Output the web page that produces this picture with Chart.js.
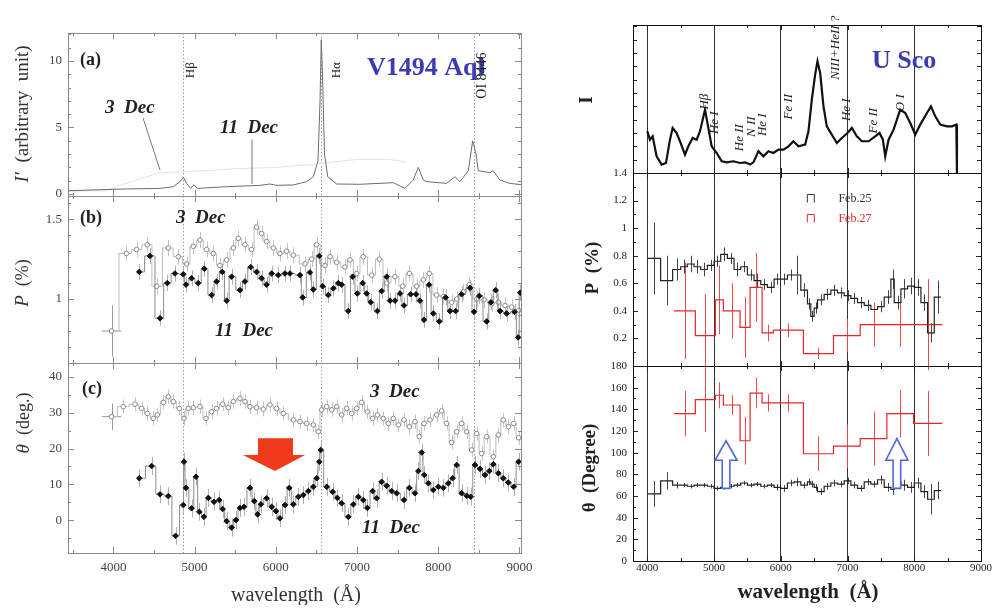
<!DOCTYPE html>
<html>
<head>
<meta charset="utf-8">
<title>V1494 Aql / U Sco spectropolarimetry</title>
<script src="https://cdn.jsdelivr.net/npm/chart.js@4.4.1/dist/chart.umd.min.js"></script>
<style>
  html, body { margin: 0; padding: 0; background: #fff; }
  #page { position: relative; width: 997px; height: 608px; overflow: hidden; }
  #page canvas { position: absolute; }
</style>
</head>
<body>
<div id="page"></div>
<script>
// ---------- V1494 Aql (left) ----------
const leftWaveTicks = [4000, 5000, 6000, 7000, 8000, 9000];
// emission line markers (Å)
const lineMarks = [4861, 6563, 8446];

// (a) flux spectra
const dec11SpecWave = [3441, 4164, 4574, 4738, 4820, 4861, 4902, 4952, 4993, 5033, 5395, 5805, 5929, 6011, 6215, 6380, 6462, 6520, 6545, 6560, 6575, 6600, 6640, 6750, 7037, 7447, 7591, 7693, 7755, 7817, 7858, 8104, 8207, 8268, 8371, 8425, 8466, 8494, 8638, 8678, 8760, 8884, 9020];
const dec11Spec = [0.25, 0.38, 0.42, 0.55, 0.93, 1.25, 0.8, 0.42, 0.7, 0.42, 0.55, 0.65, 0.75, 0.65, 0.68, 0.93, 1.3, 2.5, 7.0, 11.6, 9.0, 3.0, 1.3, 0.75, 0.73, 0.85, 0.42, 1.05, 2.0, 1.05, 0.93, 0.8, 1.3, 0.93, 1.75, 4.0, 3.0, 1.75, 1.6, 1.75, 1.05, 0.8, 0.7];
const dec3SpecWave = [3441, 3900, 4200, 4574, 5000, 5500, 6000, 6400, 6700, 7000, 7400, 7600];
const dec3Spec = [0.2, 0.25, 0.9, 1.6, 1.7, 1.9, 2.0, 2.2, 2.4, 2.6, 2.6, 2.4];

// (b) polarization degree P (%)
const dec3PWave = [3978, 4160, 4286, 4417, 4532, 4676, 4799, 4902, 4984, 5066, 5148, 5230, 5312, 5395, 5477, 5538, 5620, 5702, 5764, 5826, 5887, 5969, 6051, 6133, 6216, 6360, 6442, 6503, 6606, 6668, 6750, 6852, 6914, 6996, 7078, 7181, 7275, 7366, 7468, 7563, 7645, 7735, 7817, 7891, 7981, 8063, 8166, 8228, 8310, 8384, 8474, 8564, 8659, 8741, 8823, 8905, 8990];
const dec3P = [0.80, 1.285, 1.31, 1.34, 1.08, 1.32, 1.265, 1.22, 1.33, 1.37, 1.31, 1.285, 1.21, 1.245, 1.32, 1.38, 1.34, 1.31, 1.45, 1.41, 1.36, 1.32, 1.285, 1.30, 1.275, 1.22, 1.25, 1.34, 1.21, 1.265, 1.23, 1.20, 1.245, 1.16, 1.265, 1.15, 1.25, 1.10, 1.14, 1.08, 1.16, 1.08, 1.12, 1.16, 1.025, 1.015, 0.98, 1.0, 1.045, 1.09, 1.0, 0.995, 0.97, 0.98, 0.96, 0.95, 0.93];
const dec11PWave = [4319, 4450, 4574, 4664, 4758, 4861, 4894, 4963, 5045, 5119, 5210, 5271, 5341, 5395, 5456, 5559, 5620, 5690, 5764, 5826, 5887, 5949, 6031, 6113, 6175, 6298, 6331, 6421, 6462, 6536, 6577, 6647, 6709, 6770, 6811, 6893, 6947, 7004, 7070, 7119, 7169, 7251, 7304, 7366, 7407, 7468, 7530, 7579, 7661, 7727, 7776, 7825, 7887, 7940, 8014, 8092, 8145, 8215, 8289, 8392, 8441, 8507, 8597, 8650, 8708, 8761, 8843, 8940, 8985, 9010];
const dec11P = [1.17, 1.27, 0.88, 1.10, 1.16, 1.155, 1.09, 1.13, 1.10, 1.19, 1.025, 1.11, 1.17, 0.99, 1.14, 1.056, 1.11, 1.20, 1.17, 1.13, 1.09, 1.16, 1.15, 1.16, 1.16, 1.15, 1.01, 1.167, 1.06, 1.27, 1.08, 1.025, 1.067, 1.10, 1.09, 0.925, 1.14, 1.035, 1.10, 1.035, 0.98, 0.925, 1.05, 1.14, 0.99, 0.99, 1.035, 0.96, 1.03, 1.03, 0.99, 0.87, 1.09, 0.91, 0.86, 1.01, 0.925, 0.925, 1.03, 1.07, 0.92, 1.02, 0.86, 0.98, 1.056, 0.925, 0.91, 0.92, 0.76, 1.04];
const dec3PErr = 0.05, dec11PErr = 0.05;
const dec3FirstPErr = 0.16, dec3FirstHalfBin = 120;

// (c) position angle θ (deg.)
const dec3ThetaWave = [3978, 4122, 4266, 4348, 4417, 4491, 4541, 4615, 4676, 4738, 4812, 4869, 4922, 4984, 5066, 5140, 5210, 5271, 5345, 5415, 5477, 5559, 5620, 5682, 5764, 5846, 5928, 6010, 6092, 6216, 6298, 6380, 6462, 6524, 6565, 6627, 6688, 6750, 6811, 6873, 6935, 6996, 7058, 7128, 7193, 7251, 7325, 7386, 7448, 7509, 7579, 7645, 7714, 7768, 7825, 7899, 7981, 8043, 8104, 8166, 8228, 8289, 8351, 8412, 8474, 8535, 8597, 8679, 8741, 8802, 8864, 8930, 8990];
const dec3Theta = [28.9, 31.7, 32.4, 31.2, 29.8, 28.4, 29.4, 32.9, 34.5, 33.1, 31.2, 28.4, 31.2, 31.4, 31.7, 28.4, 30.3, 31.2, 32.4, 31.4, 33.1, 34.0, 33.1, 31.7, 31.4, 31.0, 32.2, 31.2, 29.8, 28.0, 27.5, 27.0, 26.6, 24.7, 30.8, 31.7, 30.8, 31.7, 29.4, 31.2, 29.8, 31.2, 32.9, 30.3, 28.4, 29.4, 28.4, 27.0, 28.4, 26.6, 28.0, 26.1, 27.5, 23.3, 27.0, 28.0, 29.4, 30.5, 27.0, 21.7, 24.7, 27.0, 24.7, 19.6, 24.2, 18.6, 23.3, 17.7, 23.8, 28.0, 26.1, 27.0, 23.0];
const dec11ThetaWave = [4319, 4471, 4574, 4676, 4766, 4861, 4869, 4894, 4963, 5017, 5058, 5115, 5169, 5239, 5304, 5345, 5395, 5456, 5510, 5559, 5608, 5682, 5735, 5776, 5817, 5887, 5949, 6002, 6051, 6113, 6166, 6216, 6278, 6339, 6401, 6462, 6504, 6536, 6553, 6627, 6701, 6758, 6811, 6893, 6955, 7017, 7078, 7128, 7193, 7243, 7304, 7366, 7427, 7489, 7579, 7645, 7714, 7756, 7797, 7829, 7879, 7940, 8002, 8063, 8125, 8178, 8228, 8289, 8351, 8400, 8453, 8515, 8576, 8630, 8679, 8741, 8802, 8864, 8930, 8990];
const dec11Theta = [11.7, 15.1, 7.2, 6.7, -4.4, 4.2, 16.3, 9.0, 3.3, 12.1, 2.3, 0.9, 6.2, 5.1, 5.6, 3.1, -0.3, -2.1, 0.0, 3.4, 3.7, 9.0, 5.3, 1.6, 4.4, 6.1, 3.7, 2.5, 0.5, 4.2, 9.0, 4.4, 6.5, 7.0, 8.1, 9.3, 11.7, 16.3, 19.6, 9.3, 7.9, 6.2, 4.7, 0.9, 4.4, 6.5, 5.6, 3.4, 8.1, 6.1, 10.7, 9.6, 8.1, 7.5, 5.6, 9.0, 7.5, 13.7, 18.9, 12.6, 10.3, 8.4, 9.3, 9.0, 10.3, 11.7, 15.4, 7.5, 6.8, 6.5, 15.4, 14.3, 12.6, 13.7, 15.6, 13.1, 11.7, 10.5, 9.3, 16.3];
const dec3ThetaErr = 2, dec11ThetaErr = 2.5, dec3FirstThetaErr = 3.7;

// ---------- U Sco (right) ----------
const rightWaveTicks = [4000, 5000, 6000, 7000, 8000, 9000];
const uscoWave = [4000, 4040, 4080, 4140, 4215, 4280, 4340, 4380, 4440, 4500, 4565, 4615, 4680, 4740, 4790, 4865, 4915, 4965, 5040, 5115, 5190, 5290, 5390, 5465, 5540, 5590, 5665, 5740, 5815, 5890, 5965, 6040, 6115, 6190, 6265, 6365, 6415, 6465, 6515, 6550, 6590, 6640, 6690, 6765, 6840, 6915, 7000, 7065, 7140, 7215, 7315, 7415, 7480, 7530, 7565, 7615, 7690, 7790, 7865, 7940, 8015, 8090, 8190, 8250, 8315, 8390, 8490, 8565, 8630, 8640];
const uscoFlux = [3.13, 2.5, 2.75, 1.25, 0.63, 0.75, 2.5, 3.38, 3.0, 2.25, 1.38, 2.0, 2.63, 2.5, 3.13, 4.75, 3.38, 2.0, 1.5, 0.88, 0.8, 0.88, 0.75, 0.8, 0.63, 0.8, 1.63, 1.25, 1.63, 1.5, 1.75, 1.75, 2.0, 2.38, 2.0, 2.13, 3.13, 5.5, 7.38, 8.38, 7.5, 5.0, 3.5, 2.88, 2.25, 2.63, 3.0, 3.38, 2.75, 2.38, 2.38, 2.75, 3.0, 2.5, 1.25, 2.5, 3.25, 4.75, 4.5, 3.75, 2.88, 3.63, 4.5, 5.0, 4.25, 3.63, 3.5, 3.5, 3.63, 0];

const feb25Edges = [4000, 4200, 4380, 4500, 4600, 4700, 4800, 4900, 5000, 5100, 5200, 5300, 5400, 5500, 5600, 5700, 5800, 5900, 6000, 6100, 6200, 6300, 6400, 6450, 6500, 6550, 6650, 6750, 6850, 6950, 7050, 7150, 7250, 7350, 7450, 7550, 7650, 7700, 7800, 7900, 8000, 8100, 8200, 8300, 8400];
const feb25P = [0.78, 0.62, 0.70, 0.72, 0.74, 0.72, 0.70, 0.73, 0.76, 0.81, 0.78, 0.70, 0.72, 0.66, 0.62, 0.59, 0.57, 0.63, 0.63, 0.66, 0.66, 0.55, 0.45, 0.36, 0.42, 0.48, 0.52, 0.55, 0.53, 0.51, 0.49, 0.46, 0.44, 0.41, 0.43, 0.50, 0.63, 0.46, 0.56, 0.58, 0.57, 0.46, 0.24, 0.50];
const feb25PErr = [0.26, 0.18, 0.08, 0.05, 0.06, 0.05, 0.05, 0.04, 0.04, 0.05, 0.04, 0.05, 0.04, 0.04, 0.05, 0.04, 0.04, 0.04, 0.04, 0.04, 0.14, 0.05, 0.04, 0.04, 0.04, 0.04, 0.04, 0.04, 0.04, 0.04, 0.04, 0.04, 0.04, 0.04, 0.04, 0.05, 0.07, 0.05, 0.07, 0.06, 0.06, 0.06, 0.07, 0.12];
const feb25Theta = [62, 74, 70, 70, 69, 70, 70, 69, 67, 68, 69, 70, 72, 70, 71, 69, 70, 68, 67, 72, 73, 70, 73, 71, 68, 64, 69, 72, 71, 74, 70, 67, 73, 71, 75, 68, 66, 73, 70, 68, 72, 64, 57, 65];
const feb25ThetaErr = [12, 8, 3, 2, 2, 2, 2, 2, 2, 2, 2, 2, 2, 2, 2, 2, 2, 3, 3, 3, 4, 3, 3, 3, 3, 3, 3, 3, 3, 3, 3, 3, 3, 3, 4, 4, 5, 5, 5, 5, 5, 6, 14, 8];

const feb27Edges = [4400, 4720, 5020, 5140, 5390, 5540, 5720, 5890, 6340, 6790, 7190, 7590, 7990, 8420];
const feb27P = [0.40, 0.22, 0.48, 0.40, 0.28, 0.57, 0.24, 0.26, 0.09, 0.22, 0.30, 0.30, 0.30];
const feb27PErr = [0.35, 0.30, 0.25, 0.20, 0.22, 0.25, 0.06, 0.05, 0.04, 0.12, 0.16, 0.16, 0.33];
const feb27Theta = [136, 149, 153, 144, 111, 155, 146, 146, 99, 106, 113, 136, 127];
const feb27ThetaErr = [21, 30, 12, 9, 22, 14, 8, 8, 16, 20, 25, 22, 30];

// ---------- helpers ----------
const SERIF = '"Liberation Serif", "DejaVu Serif", serif';
const f = (size, style) => ((style ? style + ' ' : '') + size + 'px ' + SERIF);
const pts = (xs, ys) => xs.map((w, i) => ({ x: w, y: ys[i] }));
const stepPts = (edges, vals) => vals.flatMap((v, i) => [{ x: edges[i], y: v }, { x: edges[i + 1], y: v }]);
const mids = edges => edges.slice(1).map((e, i) => (edges[i] + e) / 2);

const decorCfg = {};

function drawSegs(ctx, segs, x, y, t) {
  ctx.save();
  ctx.translate(x, y);
  if (t.rot) ctx.rotate(t.rot * Math.PI / 180);
  ctx.fillStyle = t.color || '#222';
  ctx.textBaseline = 'middle';
  ctx.textAlign = 'left';
  let w = 0;
  segs.forEach(s => { ctx.font = s[1]; w += ctx.measureText(s[0]).width; });
  let cx = t.align === 'left' ? 0 : -w / 2;
  segs.forEach(s => { ctx.font = s[1]; ctx.fillText(s[0], cx, 0); cx += ctx.measureText(s[0]).width; });
  ctx.restore();
}

const decor = {
  id: 'decor',
  beforeDatasetsDraw(chart) {
    const c = decorCfg[chart.canvas.id];
    if (!c) return;
    const { ctx, chartArea: a, scales: { x, y } } = chart;
    ctx.save();
    if (c.vlines) {
      ctx.strokeStyle = c.vlines.color;
      ctx.lineWidth = 1;
      ctx.setLineDash(c.vlines.dash);
      ctx.beginPath();
      c.vlines.at.forEach(w => {
        const p = Math.round(x.getPixelForValue(w)) + 0.5;
        ctx.moveTo(p, a.top); ctx.lineTo(p, a.bottom);
      });
      ctx.stroke();
      ctx.setLineDash([]);
    }
    // error bars sit under the markers
    (c.errors || []).forEach(e => {
      ctx.strokeStyle = e.color;
      ctx.lineWidth = e.lw || 1;
      ctx.beginPath();
      e.xs.forEach((w, i) => {
        const err = Array.isArray(e.err) ? e.err[i] : e.err;
        const px = Math.round(x.getPixelForValue(w)) + 0.5;
        ctx.moveTo(px, y.getPixelForValue(e.ys[i] - err));
        ctx.lineTo(px, y.getPixelForValue(e.ys[i] + err));
        if (e.xerr) {
          const py = y.getPixelForValue(e.ys[i]);
          ctx.moveTo(x.getPixelForValue(w - e.xerr), py);
          ctx.lineTo(x.getPixelForValue(w + e.xerr), py);
        }
      });
      ctx.stroke();
    });
    ctx.restore();
  },
  afterDatasetsDraw(chart) {
    const c = decorCfg[chart.canvas.id];
    if (!c) return;
    const { ctx, scales: { x, y } } = chart;
    const X = w => x.getPixelForValue(w), Y = v => y.getPixelForValue(v);
    ctx.save();
    (c.lines || []).forEach(l => {
      ctx.strokeStyle = l.color; ctx.lineWidth = 1;
      ctx.beginPath();
      ctx.moveTo(X(l.from[0]), Y(l.from[1]));
      ctx.lineTo(X(l.to[0]), Y(l.to[1]));
      ctx.stroke();
    });
    (c.arrows || []).forEach(r => {
      const lx = r.at - (r.shaftL || r.shaft), rx = r.at + r.shaft;
      const poly = [[lx, r.end], [lx, r.base], [r.at - (r.headL || r.head), r.base], [r.at, r.tip],
                    [r.at + r.head, r.base], [rx, r.base], [rx, r.end]];
      ctx.beginPath();
      poly.forEach((p, i) => (i ? ctx.lineTo(X(p[0]), Y(p[1])) : ctx.moveTo(X(p[0]), Y(p[1]))));
      ctx.closePath();
      ctx.fillStyle = r.fill; ctx.fill();
      if (r.stroke) { ctx.strokeStyle = r.stroke; ctx.lineWidth = r.lw || 1.5; ctx.lineJoin = 'miter'; ctx.stroke(); }
    });
    (c.legend || []).forEach(g => {
      const sx = X(g.x), sy = Y(g.y);
      ctx.strokeStyle = g.color; ctx.lineWidth = 1;
      ctx.beginPath();
      ctx.moveTo(sx + 0.5, sy + 4); ctx.lineTo(sx + 0.5, sy - 4);
      ctx.lineTo(sx + 7.5, sy - 4); ctx.lineTo(sx + 7.5, sy + 4);
      ctx.stroke();
      drawSegs(ctx, [[g.label, f(12)]], X(g.textX), sy, { align: 'left', color: g.color });
    });
    (c.texts || []).forEach(t => {
      const px = t.page ? t.page[0] - c.ox : X(t.at[0]);
      const py = t.page ? t.page[1] - c.oy : Y(t.at[1]);
      drawSegs(ctx, t.segs, px, py, t);
    });
    ctx.restore();
  },
  afterDraw(chart) {
    const c = decorCfg[chart.canvas.id];
    if (!c || !c.ticks) return;
    const { ctx, chartArea: a, scales: { x, y } } = chart;
    const each = (sc, step, fn) => {
      for (let k = Math.ceil(sc.min / step - 1e-9); k * step <= sc.max + 1e-9; k++) {
        fn(Math.round(sc.getPixelForValue(k * step)) + 0.5);
      }
    };
    ctx.save();
    ctx.strokeStyle = c.ticks.color;
    ctx.lineWidth = 1;
    ctx.beginPath();
    c.ticks.x.forEach(([step, len]) => each(x, step, p => {
      ctx.moveTo(p, a.bottom); ctx.lineTo(p, a.bottom - len);
      ctx.moveTo(p, a.top); ctx.lineTo(p, a.top + len);
    }));
    c.ticks.y.forEach(([step, len]) => each(y, step, p => {
      ctx.moveTo(a.left, p); ctx.lineTo(a.left + len, p);
      ctx.moveTo(a.right, p); ctx.lineTo(a.right - len, p);
    }));
    ctx.stroke();
    ctx.strokeStyle = c.ticks.frame;
    ctx.strokeRect(Math.round(a.left) + 0.5, Math.round(a.top) + 0.5,
                   Math.round(a.right - a.left), Math.round(a.bottom - a.top));
    ctx.restore();
  }
};
Chart.register(decor);

// one canvas per panel; box = plot area on the page [x0, y0, x1, y1]
function panel(id, box, o) {
  const m = Object.assign({ l: 62, r: 30, t: 24, b: 30 }, o.margin);
  const cv = document.createElement('canvas');
  cv.id = id;
  cv.width = box[2] - box[0] + m.l + m.r;
  cv.height = box[3] - box[1] + m.t + m.b;
  cv.style.left = (box[0] - m.l) + 'px';
  cv.style.top = (box[1] - m.t) + 'px';
  document.getElementById('page').appendChild(cv);
  decorCfg[id] = Object.assign({ ox: box[0] - m.l, oy: box[1] - m.t }, o.decor);
  return new Chart(cv, {
    type: 'line',
    data: { datasets: o.datasets },
    options: {
      responsive: false,
      animation: false,
      devicePixelRatio: 1,
      events: [],
      layout: { padding: { top: m.t, right: m.r, left: 0, bottom: 0 } },
      plugins: { legend: { display: false }, tooltip: { enabled: false } },
      elements: { line: { tension: 0 } },
      scales: {
        x: {
          type: 'linear', min: o.x[0], max: o.x[1],
          afterBuildTicks: s => { s.ticks = o.xTicks.map(v => ({ value: v })); },
          afterFit: s => { s.height = m.b; },
          border: { display: false },
          grid: o.xGrid ? { color: o.xGrid, lineWidth: 1, drawTicks: false } : { display: false, drawTicks: false },
          ticks: {
            display: !!o.xLabels, autoSkip: false, maxRotation: 0,
            padding: o.xPad || 4, color: o.tickColor, font: { family: SERIF, size: o.tickSize },
            callback: v => String(v)
          }
        },
        y: {
          type: 'linear', min: o.y[0], max: o.y[1],
          afterFit: s => { s.width = m.l; },
          border: { display: false },
          grid: { display: false, drawTicks: false },
          ticks: {
            display: !!o.yStep, stepSize: o.yStep || 1, includeBounds: false, autoSkip: false,
            padding: 6, color: o.tickColor, font: { family: SERIF, size: o.tickSize },
            callback: o.yFmt || (v => String(+v.toFixed(2)))
          }
        }
      }
    }
  });
}

// ---------- left figure ----------
const LX = [3441, 9020];
const leftTicks = y => ({ color: '#8a8a8a', frame: '#8a8a8a', x: [[500, 3], [1000, 6]], y });
const dotted = { at: lineMarks, color: '#9a9a9a', dash: [1.5, 2] };
const decFont = f(19, 'italic bold');
const tagFont = f(18, 'bold');

panel('aqlFlux', [68, 33, 521, 196], {
  x: LX, xTicks: leftWaveTicks, y: [-0.15, 12.1], yStep: 5, tickColor: '#444', tickSize: 13,
  datasets: [
    { label: '11 Dec', data: pts(dec11SpecWave, dec11Spec), borderColor: '#6d6d6d', borderWidth: 1, pointRadius: 0 },
    { label: '3 Dec', data: pts(dec3SpecWave, dec3Spec), borderColor: '#e2e2e2', borderWidth: 1, pointRadius: 0 }
  ],
  decor: {
    vlines: dotted,
    lines: [
      { from: [4366, 5.7], to: [4574, 1.8], color: '#777' },
      { from: [5707, 4.1], to: [5707, 0.75], color: '#777' }
    ],
    texts: [
      { segs: [['(a)', tagFont]], at: [3589, 10.07], align: 'left' },
      { segs: [['3  Dec', decFont]], at: [3897, 6.47], align: 'left' },
      { segs: [['11  Dec', decFont]], at: [5313, 4.96], align: 'left' },
      { segs: [['V1494 Aql', f(26, 'bold')]], at: [7123, 9.47], align: 'left', color: '#3b3bb4' },
      { segs: [['Hβ', f(13)]], at: [4956, 9.3], rot: -90 },
      { segs: [['Hα', f(13)]], at: [6754, 9.3], rot: -90 },
      { segs: [['OI 8446', f(14)]], at: [8549, 8.9], rot: -90 },
      { segs: [['I′', f(19, 'italic')], ['  (arbitrary  unit)', f(19)]], page: [23, 114], rot: -90, color: '#333' }
    ],
    ticks: leftTicks([[1, 3], [5, 6]])
  }
});

panel('aqlP', [68, 196, 521, 363], {
  x: LX, xTicks: leftWaveTicks, y: [0.6, 1.645], yStep: 0.5, tickColor: '#444', tickSize: 13,
  datasets: [
    { label: '11 Dec', data: pts(dec11PWave, dec11P), stepped: 'middle', borderColor: '#8c8c8c', borderWidth: 1,
      pointStyle: 'rectRot', pointRadius: 2.8, pointBorderColor: '#111', pointBackgroundColor: '#111' },
    { label: '3 Dec', data: pts(dec3PWave, dec3P), stepped: 'middle', borderColor: '#bdbdbd', borderWidth: 1,
      pointStyle: 'circle', pointRadius: 2.3, pointBorderColor: '#8a8a8a', pointBackgroundColor: '#fff', pointBorderWidth: 1 }
  ],
  decor: {
    vlines: dotted,
    errors: [
      { xs: dec3PWave, ys: dec3P, err: dec3PErr, color: '#c4c4c4' },
      { xs: dec11PWave, ys: dec11P, err: dec11PErr, color: '#b0b0b0' },
      { xs: dec3PWave.slice(0, 1), ys: dec3P.slice(0, 1), err: dec3FirstPErr, xerr: dec3FirstHalfBin, color: '#9a9a9a' }
    ],
    texts: [
      { segs: [['(b)', tagFont]], at: [3589, 1.506], align: 'left' },
      { segs: [['3  Dec', decFont]], at: [4771, 1.506], align: 'left' },
      { segs: [['11  Dec', decFont]], at: [5251, 0.80], align: 'left' },
      { segs: [['P', f(19, 'italic')], ['  (%)', f(18)]], page: [23, 283], rot: -90, color: '#333' }
    ],
    ticks: leftTicks([[0.1, 3], [0.5, 6]])
  }
});

panel('aqlTheta', [68, 363, 521, 553], {
  x: LX, xTicks: leftWaveTicks, y: [-9.2, 43.9], yStep: 10, xLabels: true, xPad: 7, tickColor: '#444', tickSize: 13,
  margin: { b: 52 },
  datasets: [
    { label: '11 Dec', data: pts(dec11ThetaWave, dec11Theta), stepped: 'middle', borderColor: '#8c8c8c', borderWidth: 1,
      pointStyle: 'rectRot', pointRadius: 2.8, pointBorderColor: '#111', pointBackgroundColor: '#111' },
    { label: '3 Dec', data: pts(dec3ThetaWave, dec3Theta), stepped: 'middle', borderColor: '#bdbdbd', borderWidth: 1,
      pointStyle: 'circle', pointRadius: 2.3, pointBorderColor: '#8a8a8a', pointBackgroundColor: '#fff', pointBorderWidth: 1 }
  ],
  decor: {
    vlines: dotted,
    errors: [
      { xs: dec3ThetaWave, ys: dec3Theta, err: dec3ThetaErr, color: '#c4c4c4' },
      { xs: dec11ThetaWave, ys: dec11Theta, err: dec11ThetaErr, color: '#b0b0b0' },
      { xs: dec3ThetaWave.slice(0, 1), ys: dec3Theta.slice(0, 1), err: dec3FirstThetaErr, xerr: dec3FirstHalfBin, color: '#9a9a9a' }
    ],
    arrows: [
      { at: 5990, tip: 13.7, base: 18.2, end: 22.9, head: 370, headL: 394, shaft: 222, shaftL: 209, fill: '#f03b1d' }
    ],
    texts: [
      { segs: [['(c)', tagFont]], at: [3613, 36.4], align: 'left' },
      { segs: [['3  Dec', decFont]], at: [7160, 35.8], align: 'left' },
      { segs: [['11  Dec', decFont]], at: [7062, -2.2], align: 'left' },
      { segs: [['θ', f(19, 'italic')], ['  (deg.)', f(18)]], page: [24, 423], rot: -90, color: '#333' },
      { segs: [['wavelength  (Å)', f(20)]], page: [296, 596], color: '#333' }
    ],
    ticks: leftTicks([[5, 3], [10, 6]])
  }
});

// ---------- right figure ----------
const RX = [3786, 9000];
const rightTicks = y => ({ color: '#222', frame: '#111', x: [[500, 3], [1000, 5]], y });
const lineLbl = f(13, 'italic');

panel('uscoFlux', [633, 25, 981, 173], {
  x: RX, xTicks: rightWaveTicks, y: [0, 11.1], xGrid: '#333', tickColor: '#222', tickSize: 11,
  datasets: [
    { label: 'U Sco', data: pts(uscoWave, uscoFlux), borderColor: '#111', borderWidth: 2.2, pointRadius: 0 }
  ],
  decor: {
    texts: [
      { segs: [['U Sco', f(26, 'bold')]], at: [7367, 8.35], align: 'left', color: '#3b3bb4' },
      { segs: [['Hβ', lineLbl]], at: [4865, 5.35], rot: -90 },
      { segs: [['He I', lineLbl]], at: [5015, 3.77], rot: -90 },
      { segs: [['He II', lineLbl]], at: [5390, 2.65], rot: -90 },
      { segs: [['N II', lineLbl]], at: [5570, 3.47], rot: -90 },
      { segs: [['He I', lineLbl]], at: [5720, 3.62], rot: -90 },
      { segs: [['Fe II', lineLbl]], at: [6110, 4.97], rot: -90 },
      { segs: [['NIII+HeII ?', lineLbl]], at: [6814, 9.4], rot: -90 },
      { segs: [['He I', lineLbl]], at: [6980, 4.75], rot: -90 },
      { segs: [['Fe II', lineLbl]], at: [7385, 3.92], rot: -90 },
      { segs: [['O I', lineLbl]], at: [7800, 5.27], rot: -90 },
      { segs: [['I', f(19, 'bold')]], page: [587, 100], rot: -90 }
    ],
    ticks: rightTicks([[1, 4]])
  }
});

panel('uscoP', [633, 173, 981, 366], {
  x: RX, xTicks: rightWaveTicks, y: [0, 1.4], yStep: 0.2, xGrid: '#333', tickColor: '#222', tickSize: 11,
  yFmt: v => (v === 0 ? '' : String(+v.toFixed(1))),
  datasets: [
    { label: 'Feb.25', data: stepPts(feb25Edges, feb25P), borderColor: '#222', borderWidth: 1.2, pointRadius: 0 },
    { label: 'Feb.27', data: stepPts(feb27Edges, feb27P), borderColor: '#e8262a', borderWidth: 1.2, pointRadius: 0 }
  ],
  decor: {
    errors: [
      { xs: mids(feb25Edges), ys: feb25P, err: feb25PErr, color: '#444' },
      { xs: mids(feb27Edges), ys: feb27P, err: feb27PErr, color: '#ec4a4d' }
    ],
    legend: [
      { label: 'Feb.25', color: '#333', x: 6390, textX: 6864, y: 1.215 },
      { label: 'Feb.27', color: '#e8262a', x: 6390, textX: 6864, y: 1.07 }
    ],
    texts: [
      { segs: [['P  (%)', f(19, 'bold')]], page: [593, 268], rot: -90 }
    ],
    ticks: rightTicks([[0.1, 3], [0.2, 5]])
  }
});

panel('uscoTheta', [633, 366, 981, 561], {
  x: RX, xTicks: rightWaveTicks, y: [0, 180], yStep: 20, xLabels: true, xPad: 1, xGrid: '#333', tickColor: '#222', tickSize: 11,
  margin: { b: 45 },
  datasets: [
    { label: 'Feb.25', data: stepPts(feb25Edges, feb25Theta), borderColor: '#222', borderWidth: 1.2, pointRadius: 0 },
    { label: 'Feb.27', data: stepPts(feb27Edges, feb27Theta), borderColor: '#e8262a', borderWidth: 1.2, pointRadius: 0 }
  ],
  decor: {
    errors: [
      { xs: mids(feb25Edges), ys: feb25Theta, err: feb25ThetaErr, color: '#444' },
      { xs: mids(feb27Edges), ys: feb27Theta, err: feb27ThetaErr, color: '#ec4a4d' }
    ],
    arrows: [
      { at: 5180, tip: 111, base: 93, end: 67, head: 165, shaft: 57, fill: '#fff', stroke: '#5466dc', lw: 1.6 },
      { at: 7740, tip: 113, base: 93, end: 67, head: 165, shaft: 57, fill: '#fff', stroke: '#5466dc', lw: 1.6 }
    ],
    texts: [
      { segs: [['θ  (Degree)', f(19, 'bold')]], page: [590, 468], rot: -90 },
      { segs: [['wavelength  (Å)', f(21, 'bold')]], page: [808, 593] }
    ],
    ticks: rightTicks([[10, 3], [20, 5]])
  }
});
</script>
</body>
</html>
